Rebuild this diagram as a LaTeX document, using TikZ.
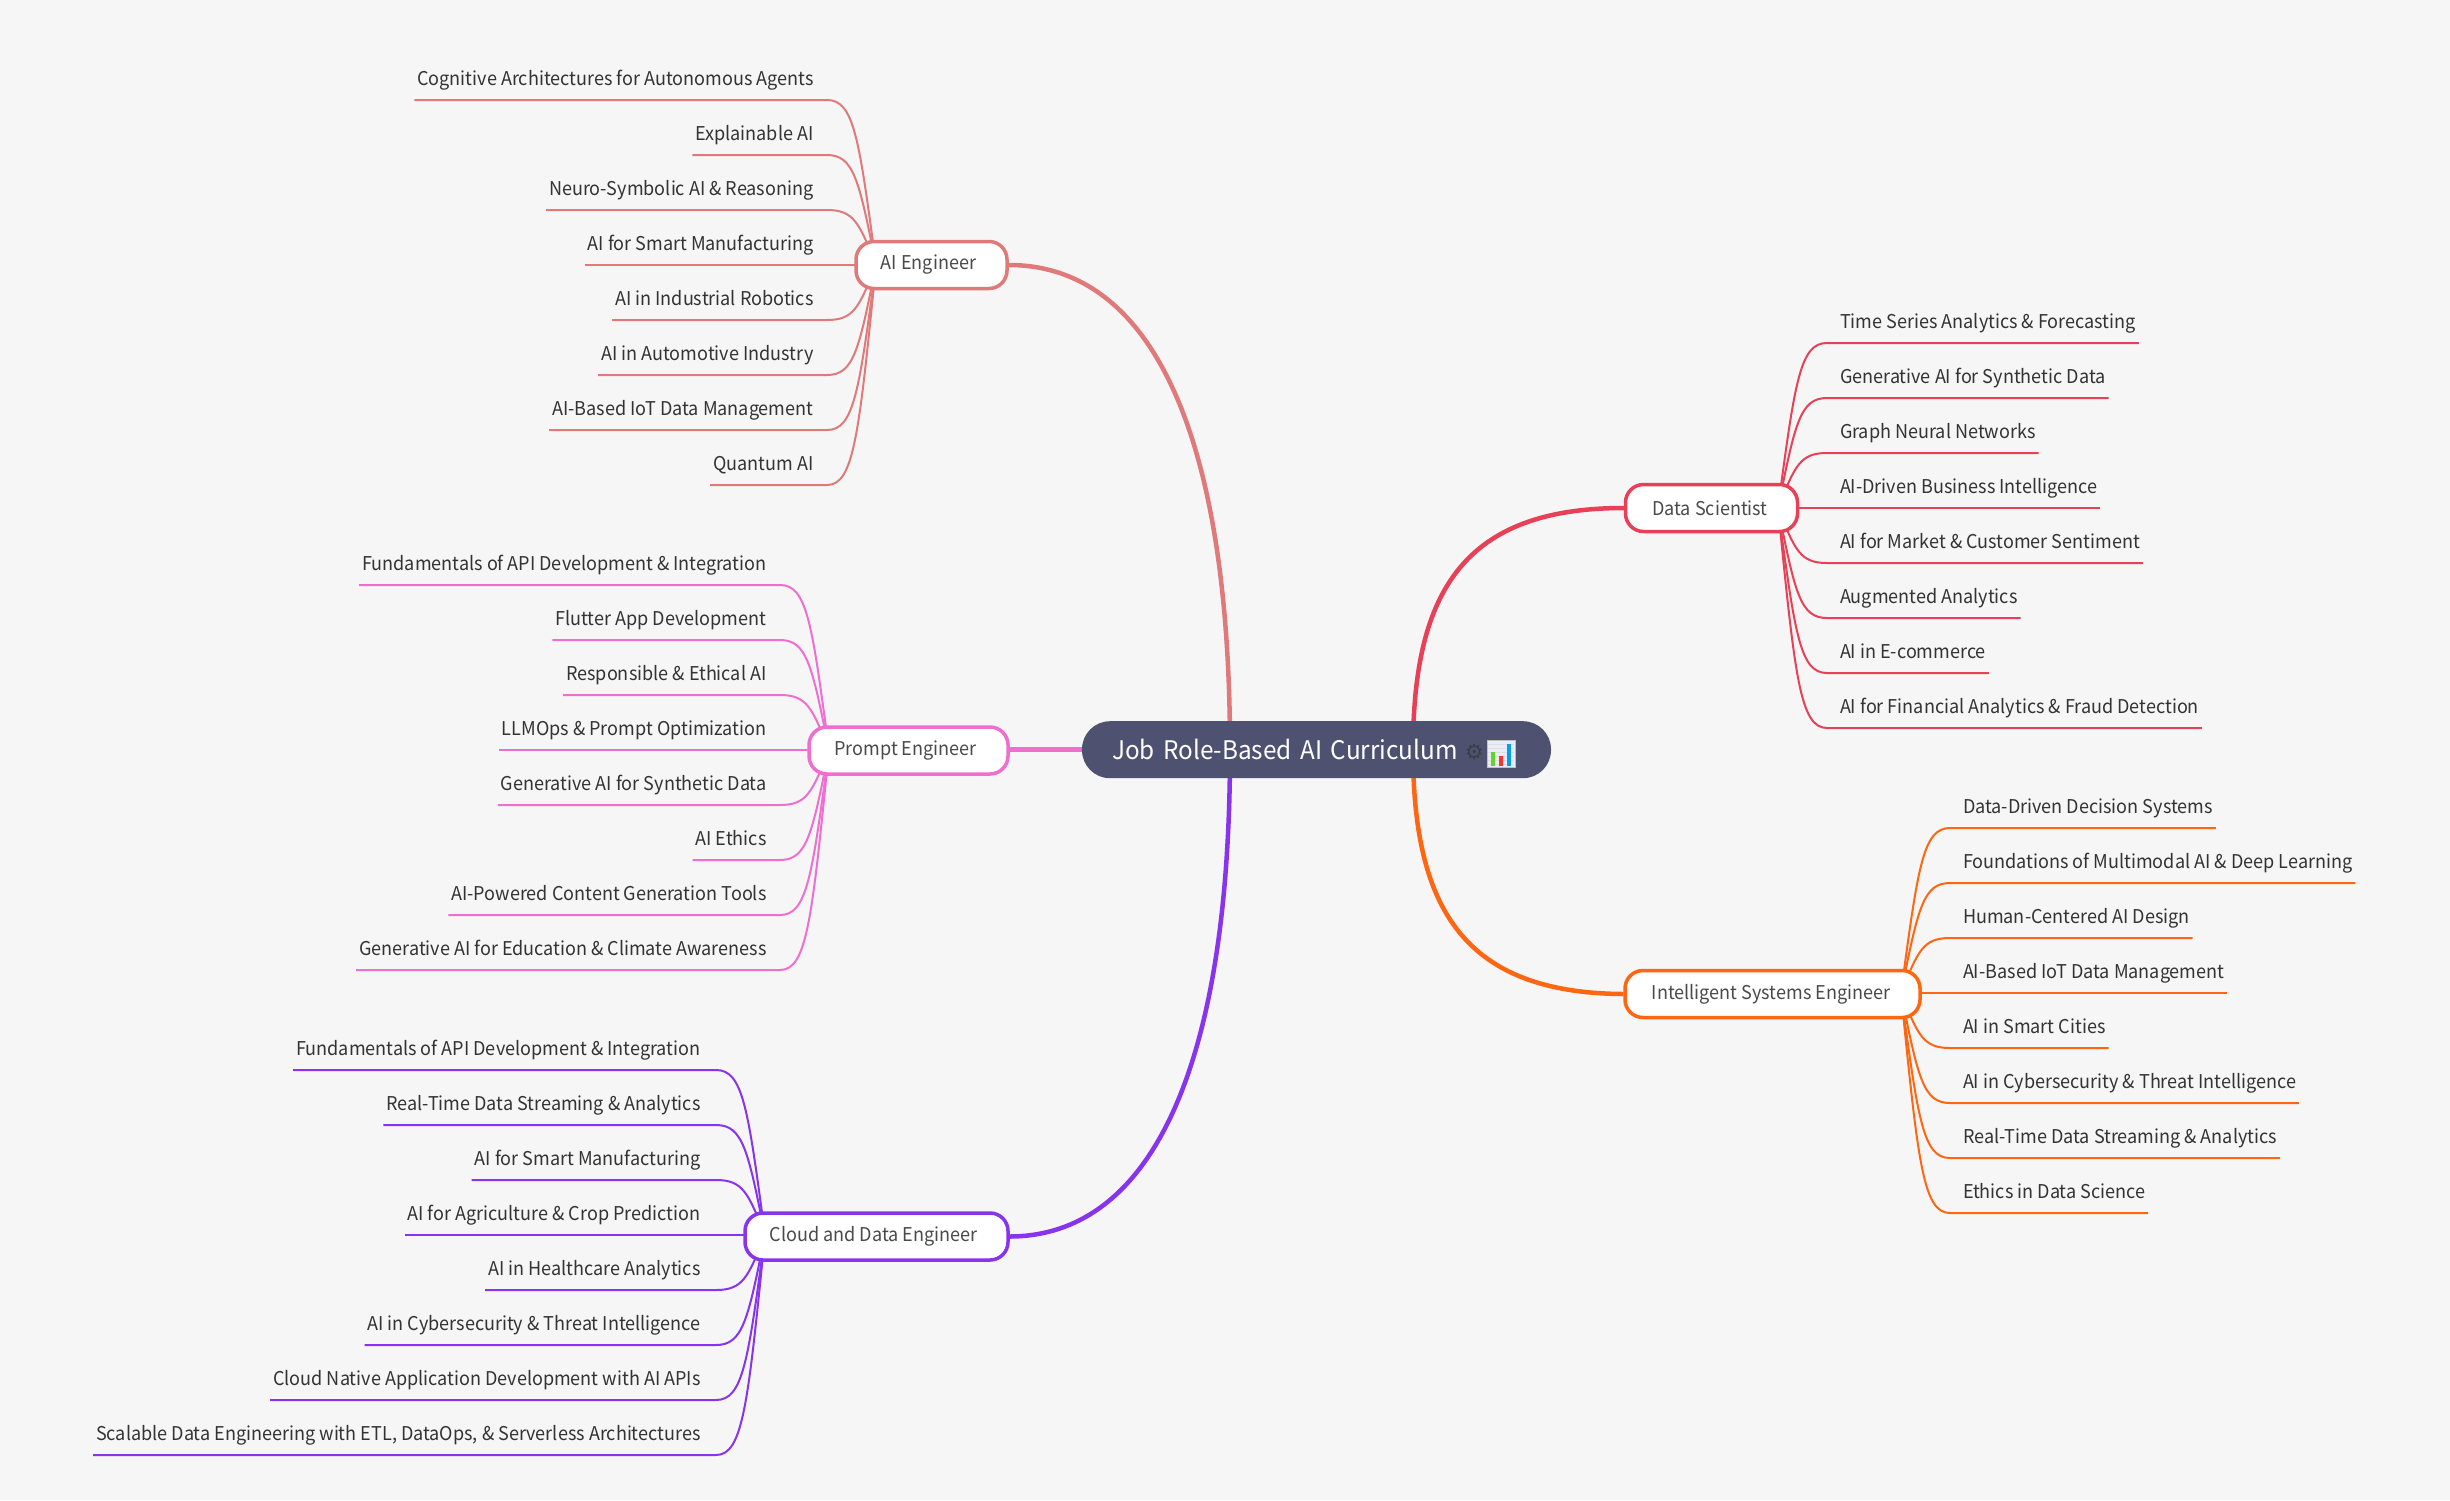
\documentclass[tikz,border=0pt]{standalone}
\usepackage{fontspec}
\setmainfont[FakeStretch=0.95]{Noto Sans CJK SC}
\newfontfamily\dejavu{DejaVu Sans}
\usetikzlibrary{calc}
\pgfdeclarelayer{background}
\pgfsetlayers{background,main}
\definecolor{bgc}{HTML}{F6F6F6}
\definecolor{rootc}{HTML}{4E5270}
\definecolor{gearc}{HTML}{3D3D45}
\definecolor{aic}{HTML}{E07A7A}
\definecolor{prc}{HTML}{EE6FCF}
\definecolor{clc}{HTML}{8833EE}
\definecolor{dsc}{HTML}{E84057}
\definecolor{isc}{HTML}{FF6611}
\definecolor{leaft}{HTML}{333333}
\definecolor{part}{HTML}{4A4A4A}
\tikzset{
  leaf/.style={inner ysep=0pt,inner xsep=3pt,outer sep=0pt,text=leaft,font=\fontsize{19}{23}\selectfont},
  leafline/.style={line width=2pt},
  mainline/.style={line width=4.5pt},
  parentbox/.style={draw,fill=white,line width=3.5pt,rounded corners=18pt,minimum height=47pt,inner xsep=0pt,inner ysep=0pt,text=part,font=\fontsize{19}{23}\selectfont},
  rootbox/.style={fill=rootc,rounded corners=28pt,minimum height=57pt,text width=409pt,inner xsep=30pt,inner ysep=0pt,align=left,text=white,font=\fontsize{25.6}{31}\selectfont}
}
% #1 name, #2 colour, #3 sign, #4 x of curve end, #5 x of text node, #6 first y, #7 anchor of the text, #8 far anchor, #9 list
\newcommand\leafgroup[9]{%
  \foreach \t [count=\i] in {#9}{%
    \pgfmathsetmacro\yy{#6+(\i-1)*55}%
    \pgfmathsetmacro\py{#6+165}%
    \pgfmathsetmacro\cy{\py+(\yy-\py)*0.77}%
    \node[leaf,anchor=base #7] (#1-\i) at (#5,\yy-15) {\t};
    \coordinate (#1-s\i) at ({#4-(#3)*49},\py);
    \coordinate (#1-e\i) at (#4,\yy);
    \begin{pgfonlayer}{background}
      \draw[#2,leafline] (#1-s\i) .. controls ({#4-(#3)*32},\cy) and ({#4-(#3)*27},\yy) .. (#1-e\i) -- (#1-\i.#8 |- #1-e\i);
    \end{pgfonlayer}
  }%
}
\begin{document}
\begin{tikzpicture}[x=1pt,y=-1pt]
\useasboundingbox (0,0) rectangle (2450,1500);
\begin{pgfonlayer}{background}
\fill[bgc] (0,0) rectangle (2450,1500);
\end{pgfonlayer}
% root
\node[rootbox] (root) at (1316.5,749.7) {Job Role-Based AI Curriculum\hspace{7pt}{\dejavu\fontsize{21}{24}\selectfont\textcolor{gearc}{⚙}}};
\coordinate (rootl) at (1230,750);
\coordinate (rootr) at (1413,750);
% chart emoji
\fill[white!92!blue] (1487,740) rectangle (1515,767);
\draw[gray!50,line width=.6pt] (1487,740) rectangle (1515,767);
\foreach \q in {744,748,752,756,760,764}{\draw[gray!25,line width=.5pt] (1488,\q) -- (1514,\q);}
\fill[green!60!olive!80] (1491,752) rectangle (1495,766);
\fill[red!80] (1499,756) rectangle (1502.5,766);
\fill[blue!30!cyan!90!black] (1507,744) rectangle (1510.7,766);
% parents
\node[parentbox,draw=aic,minimum width=151pt] (ai) at (931.5,265) {AI Engineer\hspace*{6pt}};
\node[parentbox,draw=prc,minimum width=199pt] (pr) at (908.5,750.5) {Prompt Engineer\hspace*{6pt}};
\node[parentbox,draw=clc,minimum width=263pt] (cl) at (876.5,1236.5) {Cloud and Data Engineer\hspace*{6pt}};
\node[parentbox,draw=dsc,minimum width=172pt] (ds) at (1711.5,508) {Data Scientist\hspace*{3pt}};
\node[parentbox,draw=isc,minimum width=295pt] (is) at (1772.5,994) {Intelligent Systems Engineer\hspace*{3pt}};
% main connectors
\begin{pgfonlayer}{background}
\draw[aic,mainline] (rootl) .. controls (1230,430) and (1150,265) .. (ai.east);
\draw[clc,mainline] (rootl) .. controls (1230,1070) and (1150,1236) .. (cl.east);
\draw[prc,mainline] (root.west) -- (pr.east |- root.west);
\draw[dsc,mainline] (rootr) .. controls (1413,590) and (1465,508) .. (ds.west);
\draw[isc,mainline] (rootr) .. controls (1413,910) and (1465,993) .. (is.west);
\end{pgfonlayer}
% leaves
\leafgroup{ail}{aic}{-1}{827}{816.5}{100}{east}{west}{Cognitive Architectures for Autonomous Agents,Explainable AI,Neuro-Symbolic AI \& Reasoning,AI for Smart Manufacturing,AI in Industrial Robotics,AI in Automotive Industry,AI-Based IoT Data Management,Quantum AI}
\leafgroup{prl}{prc}{-1}{780}{769.5}{585}{east}{west}{Fundamentals of API Development \& Integration,Flutter App Development,Responsible \& Ethical AI,LLMOps \& Prompt Optimization,Generative AI for Synthetic Data,AI Ethics,AI-Powered Content Generation Tools,Generative AI for Education \& Climate Awareness}
\leafgroup{cll}{clc}{-1}{716}{703.5}{1070}{east}{west}{Fundamentals of API Development \& Integration,Real-Time Data Streaming \& Analytics,AI for Smart Manufacturing,AI for Agriculture \& Crop Prediction,AI in Healthcare Analytics,AI in Cybersecurity \& Threat Intelligence,Cloud Native Application Development with AI APIs,{Scalable Data Engineering with ETL, DataOps, \& Serverless Architectures}}
\leafgroup{dsl}{dsc}{1}{1827}{1837}{343}{west}{east}{Time Series Analytics \& Forecasting,Generative AI for Synthetic Data,Graph Neural Networks,AI-Driven Business Intelligence,AI for Market \& Customer Sentiment,Augmented Analytics,AI in E-commerce,AI for Financial Analytics \& Fraud Detection}
\leafgroup{isl}{isc}{1}{1950}{1960}{828}{west}{east}{Data-Driven Decision Systems,Foundations of Multimodal AI \& Deep Learning,Human-Centered AI Design,AI-Based IoT Data Management,AI in Smart Cities,AI in Cybersecurity \& Threat Intelligence,Real-Time Data Streaming \& Analytics,Ethics in Data Science}
\end{tikzpicture}
\end{document}
